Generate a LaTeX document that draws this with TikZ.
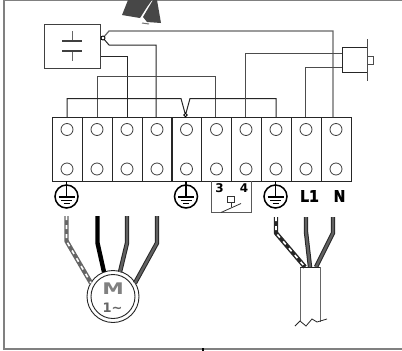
\documentclass[tikz,border=0pt]{standalone}
\usepackage{fontspec}
\setmainfont{DejaVu Sans}
\newfontfamily\heavyfont[FakeBold=1.5]{DejaVu Sans Bold}
\begin{document}
\begin{tikzpicture}[x=1pt,y=-1pt,
  frameline/.style={draw=black!50,line width=1.6pt},
  wire/.style={draw=black!85,line width=1pt},
  graywire/.style={draw=black!60,line width=1.2pt},
  cell/.style={draw=black!85,line width=1pt,minimum width=30pt,minimum height=64pt,inner sep=0pt,outer sep=0pt},
  screw/.style={circle,draw=black!75,line width=.8pt,minimum size=12pt,inner sep=0pt},
  earthring/.style={circle,draw=black,line width=1.5pt,minimum size=23pt,inner sep=0pt},
  junction/.style={circle,draw=black,line width=.9pt,minimum size=4pt,inner sep=0pt},
  lab/.style={font=\bfseries\fontsize{12}{12}\selectfont,inner sep=0pt},
  heavylab/.style={font=\heavyfont\fontsize{16}{16}\selectfont,inner sep=0pt,xscale=.88},
  cableout/.style={line width=4.4pt,draw=black!85,line join=round},
  cablein/.style={line width=2.4pt,line join=round},
  stripe/.style={line width=1.6pt,draw=white,dash pattern=on 4pt off 5pt,line join=round}]
\useasboundingbox (0,0) rectangle (402,351);
\fill[white] (0,0) rectangle (402,351);
% frame
\draw[frameline] (402,0.6) -- (4,0.6) -- (4,349) -- (402,349);
\coordinate (tick1) at (203,348); \coordinate (tick2) at (203,351);
\draw[black,line width=1.4pt] (tick1) -- (tick2);
% fan remnants
\fill[black!72] (128,0) -- (122,15) -- (140,18) -- (147,7) -- (152,0) -- cycle;
\fill[black!72] (153,0) -- (143,17) -- (147,22) -- (161,23) -- (157,0) -- cycle;
\draw[black!55,line width=1pt] (142,23) -- (149,24);
% terminals
\foreach \i/\x in {1/67,2/97,3/127,4/157,5/186.5,6/216.5,7/246,8/276,9/306,10/336}{
  \node[cell] (c\i) at (\x,149) {};
  \node[screw] (u\i) at (\x,129.5) {};
  \node[screw] (l\i) at (\x,169) {};
}
% capacitor box
\node[draw=black!75,line width=1pt,minimum width=56.5pt,minimum height=44pt,inner sep=0pt,outer sep=0pt] (capbox) at (72.7,46) {};
\coordinate (p1) at (72,31); \coordinate (p2) at (72,40);
\coordinate (p3) at (72,52); \coordinate (p4) at (72,61);
\draw[black!60,line width=1pt] (p1) -- (p2) (p3) -- (p4);
\draw[black!75,line width=1.8pt] (62,41) -- (82,41) (62,51) -- (82,51);
\node[junction] (capj) at (103,38) {};
% wires
\draw[graywire] (capj) -- (109,31) -- (333,31) -- (333,117);
\draw[wire] (capj) -- (109,45) -- (156,45) -- (156,117);
\draw[wire] (101,56) -- (127,56) -- (c3.north);
\draw[wire,draw=black!70] (c2.north) |- (215.7,76) -- (215.7,117);
\node[junction,minimum size=3.5pt] (bridge) at (185.5,115) {};
\draw[wire] (c1.north) |- (181,98.5) -- (bridge) -- (190,98.5) -| (c8.north);
\draw[wire,draw=black!70] (245.6,117) |- (342,53);
\draw[wire,draw=black!70] (305,117) |- (342,67);
% plug
\node[draw=black!85,line width=1pt,minimum width=25pt,minimum height=25pt,inner sep=0pt,outer sep=0pt] (plug) at (354.5,60) {};
\coordinate (pt) at (367,39); \coordinate (pb) at (367,81);
\draw[black!70,line width=1pt] (pt) -- (pb);
\draw[black!70,line width=.9pt] (367,56.5) rectangle (373,64);
% earths
\foreach \n/\x/\s in {e1/66.5/c1,e2/186/c5,e3/275.5/c8}{
  \node[earthring] (\n) at (\x,196.5) {};
  \draw[black,line width=1.5pt] (\x,181) -- (\x,197);
  \draw[black,line width=1.6pt] (\x-8,197) -- (\x+8,197);
  \draw[black,line width=1.4pt] (\x-5.5,200.5) -- (\x+5.5,200.5);
  \draw[black,line width=1.2pt] (\x-3,203.5) -- (\x+3,203.5);
}
% switch
\draw[black!65,line width=1pt] (211,181) -- (211,212.5) -- (251,212.5) -- (251,181);
\node[lab] (n3) at (219.5,188.5) {3};
\node[lab] (n4) at (244,188.5) {4};
\draw[black!80,line width=.8pt] (227.5,196) rectangle (234.5,202.5);
\draw[black!80,line width=.8pt] (231,202.5) -- (231,207);
\draw[black!80,line width=.8pt] (221,212.5) -- (241,203.5);
\node[heavylab] (nl) at (309.5,196) {L1};
\node[heavylab] (nn) at (339.5,196) {N};
% motor
\node[circle,draw=black!85,line width=.9pt,minimum size=52pt,inner sep=0pt] (motor) at (113,296.5) {};
\node[circle,draw=black!85,line width=.9pt,minimum size=44pt,inner sep=0pt] (motori) at (113,296.5) {};
\node[font=\bfseries\fontsize{16}{16}\selectfont,text=black!50,inner sep=0pt,xscale=1.35] (mm) at (113,288.5) {M};
\node[font=\bfseries\fontsize{13}{13}\selectfont,text=black!60,inner sep=0pt] (m1) at (112.5,308) {1\textasciitilde};
% motor wires
\draw[cableout,draw=black!60] (66.5,216) -- (66.5,241) -- (91,283);
\draw[stripe] (66.5,216) -- (66.5,241) -- (91,283);
\draw[cableout,draw=black] (97.5,216) -- (97.5,243) -- (104,272);
\draw[cableout] (127,216) -- (127,243) -- (120,272);
\draw[cablein,draw=black!62] (127,216) -- (127,243) -- (120,272);
\draw[cableout] (157,216) -- (157,243) -- (135,283);
\draw[cablein,draw=black!62] (157,216) -- (157,243) -- (135,283);
% cable
\draw[black!60,line width=1pt] (300,267) -- (300,321);
\draw[black!60,line width=1pt] (320,267) -- (320,322);
\coordinate (j0) at (295,326);
\draw[black!85,line width=.8pt] (j0) -- (300,321) -- (306,326) -- (312,319) -- (317,322) -- (327,319);
\draw[cableout] (276,217) -- (276,233) -- (305,267);
\draw[stripe] (276,217) -- (276,233) -- (305,267);
\draw[cableout] (306,217) -- (306,232) -- (310,267);
\draw[cablein,draw=black!62] (306,217) -- (306,232) -- (310,267);
\draw[cableout] (333,217) -- (333,233) -- (316,267);
\draw[cablein,draw=black!62] (333,217) -- (333,233) -- (316,267);
\draw[black!85,line width=1pt] (300,267) -- (320,267);
\end{tikzpicture}
\end{document}
